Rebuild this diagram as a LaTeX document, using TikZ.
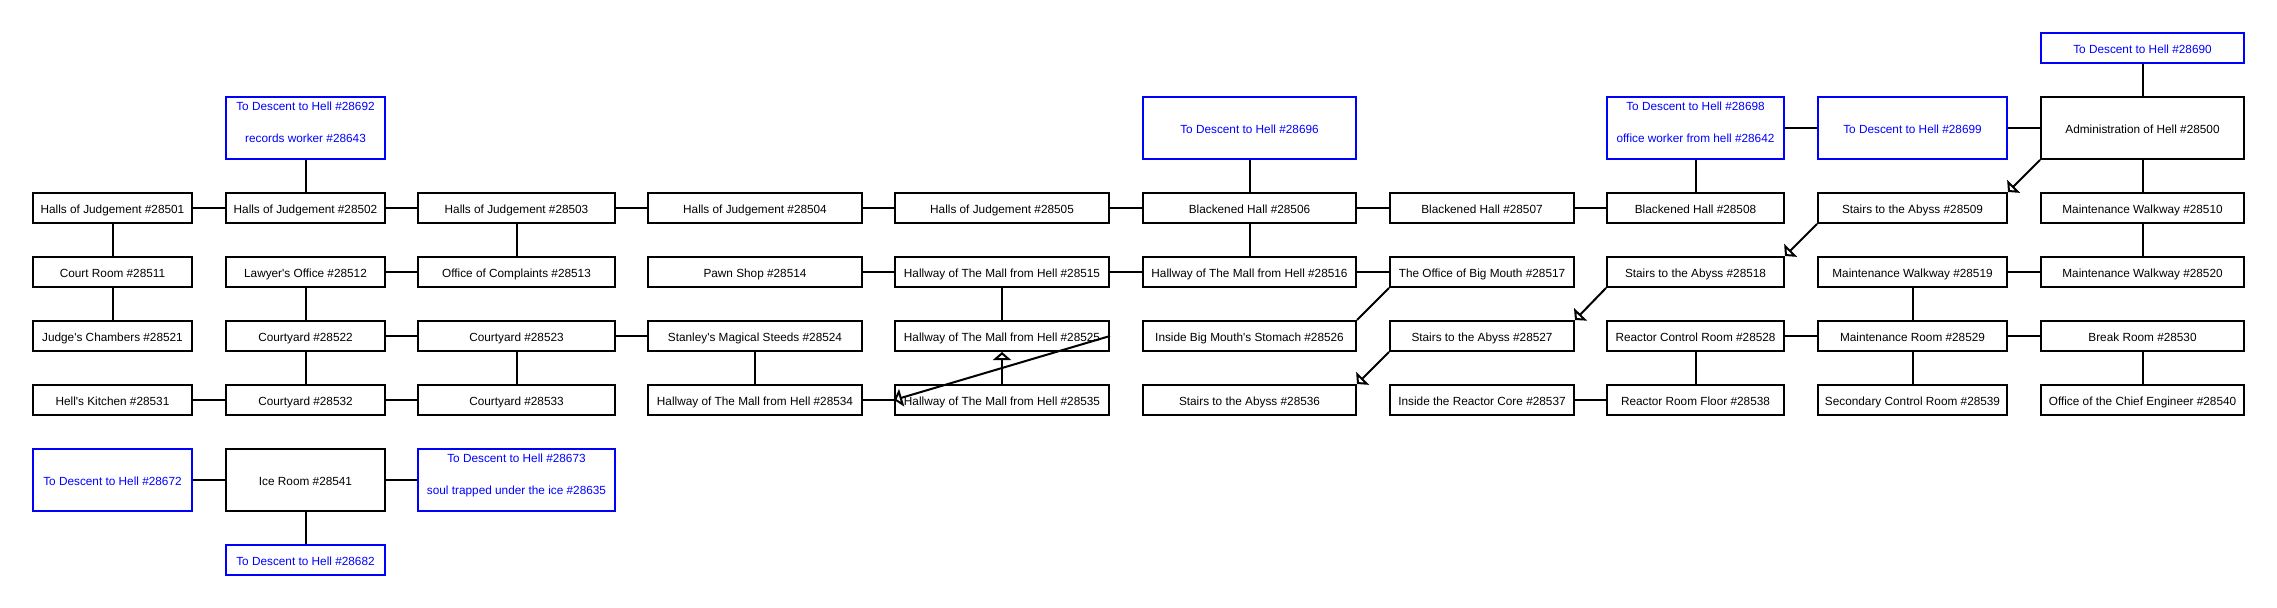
\documentclass[tikz,border=0pt]{standalone}
\usepackage{fontspec}
\setmainfont{Liberation Sans}
\usetikzlibrary{arrows.meta}
\definecolor{linkblue}{RGB}{0,0,255}
\newcommand{\twolines}[2]{\begin{tabular}[t]{@{}c@{}}#1\\[18bp]#2\end{tabular}}
\newcommand{\apos}{\textquotesingle}
\begin{document}
\begin{tikzpicture}[x=1bp,y=-1bp,
  base/.style={draw, line width=2bp, inner sep=0pt,
    font=\fontsize{11.8bp}{14bp}\selectfont,
    text height=12bp, text depth=0.2bp, minimum height=30bp},
  room/.style={base, draw=black, text=black},
  exit/.style={base, draw=linkblue, text=linkblue},
  tall/.style={minimum height=62bp},
  twol/.style={tall, text height=0bp, text depth=35.6bp},
  wa/.style={minimum width=159bp},
  wb/.style={minimum width=159bp},
  wc/.style={minimum width=197bp},
  wd/.style={minimum width=214bp},
  we/.style={minimum width=214bp},
  wf/.style={minimum width=213bp},
  wg/.style={minimum width=184bp},
  wh/.style={minimum width=177bp},
  wi/.style={minimum width=189bp},
  wj/.style={minimum width=203bp},
  link/.style={line width=2bp, draw=black},
  arr/.style={link, -{Triangle[open, length=8bp, width=18bp]}}]
\useasboundingbox (0,0) rectangle (2277,608);

% row 0
\node[exit, wj] (e28690) at (2142.5,48) {To Descent to Hell \#28690};
% row 1
\node[exit, wb, twol] (e28692) at (305.5,128) {\twolines{To Descent to Hell \#28692}{records worker \#28643}};
\node[exit, wf, tall] (e28696) at (1249.5,128) {To Descent to Hell \#28696};
\node[exit, wh, twol] (e28698) at (1695.5,128) {\twolines{To Descent to Hell \#28698}{office worker from hell \#28642}};
\node[exit, wi, tall] (e28699) at (1912.5,128) {To Descent to Hell \#28699};
\node[room, wj, tall] (r28500) at (2142.5,128) {Administration of Hell \#28500};
% row 2
\node[room, wa] (r28501) at (112.5,208) {Halls of Judgement \#28501};
\node[room, wb] (r28502) at (305.5,208) {Halls of Judgement \#28502};
\node[room, wc] (r28503) at (516.5,208) {Halls of Judgement \#28503};
\node[room, wd] (r28504) at (755,208) {Halls of Judgement \#28504};
\node[room, we] (r28505) at (1002,208) {Halls of Judgement \#28505};
\node[room, wf] (r28506) at (1249.5,208) {Blackened Hall \#28506};
\node[room, wg] (r28507) at (1482,208) {Blackened Hall \#28507};
\node[room, wh] (r28508) at (1695.5,208) {Blackened Hall \#28508};
\node[room, wi] (r28509) at (1912.5,208) {Stairs to the Abyss \#28509};
\node[room, wj] (r28510) at (2142.5,208) {Maintenance Walkway \#28510};
% row 3
\node[room, wa] (r28511) at (112.5,272) {Court Room \#28511};
\node[room, wb] (r28512) at (305.5,272) {Lawyer\apos s Office \#28512};
\node[room, wc] (r28513) at (516.5,272) {Office of Complaints \#28513};
\node[room, wd] (r28514) at (755,272) {Pawn Shop \#28514};
\node[room, we] (r28515) at (1002,272) {Hallway of The Mall from Hell \#28515};
\node[room, wf] (r28516) at (1249.5,272) {Hallway of The Mall from Hell \#28516};
\node[room, wg] (r28517) at (1482,272) {The Office of Big Mouth \#28517};
\node[room, wh] (r28518) at (1695.5,272) {Stairs to the Abyss \#28518};
\node[room, wi] (r28519) at (1912.5,272) {Maintenance Walkway \#28519};
\node[room, wj] (r28520) at (2142.5,272) {Maintenance Walkway \#28520};
% row 4
\node[room, wa] (r28521) at (112.5,336) {Judge\apos s Chambers \#28521};
\node[room, wb] (r28522) at (305.5,336) {Courtyard \#28522};
\node[room, wc] (r28523) at (516.5,336) {Courtyard \#28523};
\node[room, wd] (r28524) at (755,336) {Stanley\apos s Magical Steeds \#28524};
\node[room, we] (r28525) at (1002,336) {Hallway of The Mall from Hell \#28525};
\node[room, wf] (r28526) at (1249.5,336) {Inside Big Mouth\apos s Stomach \#28526};
\node[room, wg] (r28527) at (1482,336) {Stairs to the Abyss \#28527};
\node[room, wh] (r28528) at (1695.5,336) {Reactor Control Room \#28528};
\node[room, wi] (r28529) at (1912.5,336) {Maintenance Room \#28529};
\node[room, wj] (r28530) at (2142.5,336) {Break Room \#28530};
% row 5
\node[room, wa] (r28531) at (112.5,400) {Hell\apos s Kitchen \#28531};
\node[room, wb] (r28532) at (305.5,400) {Courtyard \#28532};
\node[room, wc] (r28533) at (516.5,400) {Courtyard \#28533};
\node[room, wd] (r28534) at (755,400) {Hallway of The Mall from Hell \#28534};
\node[room, we] (r28535) at (1002,400) {Hallway of The Mall from Hell \#28535};
\node[room, wf] (r28536) at (1249.5,400) {Stairs to the Abyss \#28536};
\node[room, wg] (r28537) at (1482,400) {Inside the Reactor Core \#28537};
\node[room, wh] (r28538) at (1695.5,400) {Reactor Room Floor \#28538};
\node[room, wi] (r28539) at (1912.5,400) {Secondary Control Room \#28539};
\node[room, wj] (r28540) at (2142.5,400) {Office of the Chief Engineer \#28540};
% row 6
\node[exit, wa, tall] (e28672) at (112.5,480) {To Descent to Hell \#28672};
\node[room, wb, tall] (r28541) at (305.5,480) {Ice Room \#28541};
\node[exit, wc, twol] (e28673) at (516.5,480) {\twolines{To Descent to Hell \#28673}{soul trapped under the ice \#28635}};
% row 7
\node[exit, wb] (e28682) at (305.5,560) {To Descent to Hell \#28682};

% plain connectors
\foreach \a/\b in {e28692/r28502, r28501/r28502, r28502/r28503, r28503/r28504,
  r28504/r28505, r28505/r28506, r28506/r28507, r28507/r28508,
  e28696/r28506, e28698/r28508, e28698/e28699, e28699/r28500,
  e28690/r28500, r28500/r28510, r28510/r28520,
  r28501/r28511, r28511/r28521, r28512/r28513, r28503/r28513, r28512/r28522,
  r28514/r28515, r28515/r28516, r28516/r28517, r28515/r28525, r28506/r28516,
  r28519/r28520, r28522/r28523, r28523/r28524,
  r28522/r28532, r28523/r28533, r28524/r28534,
  r28528/r28529, r28529/r28530, r28519/r28529,
  r28529/r28539, r28528/r28538, r28530/r28540,
  r28531/r28532, r28532/r28533, r28534/r28535, r28537/r28538,
  e28672/r28541, r28541/e28673, r28541/e28682}
  \draw[link] (\a) -- (\b);
\draw[link] (r28517.south west) -- (r28526.north east);

% arrows
\draw[arr] (r28500.south west) -- (r28509.north east);
\draw[arr] (r28509.south west) -- (r28518.north east);
\draw[arr] (r28518.south west) -- (r28527.north east);
\draw[arr] (r28527.south west) -- (r28536.north east);
\draw[arr] (r28535) -- (r28525);
\draw[arr] (r28525.east) -- (r28535.west);
\end{tikzpicture}
\end{document}
